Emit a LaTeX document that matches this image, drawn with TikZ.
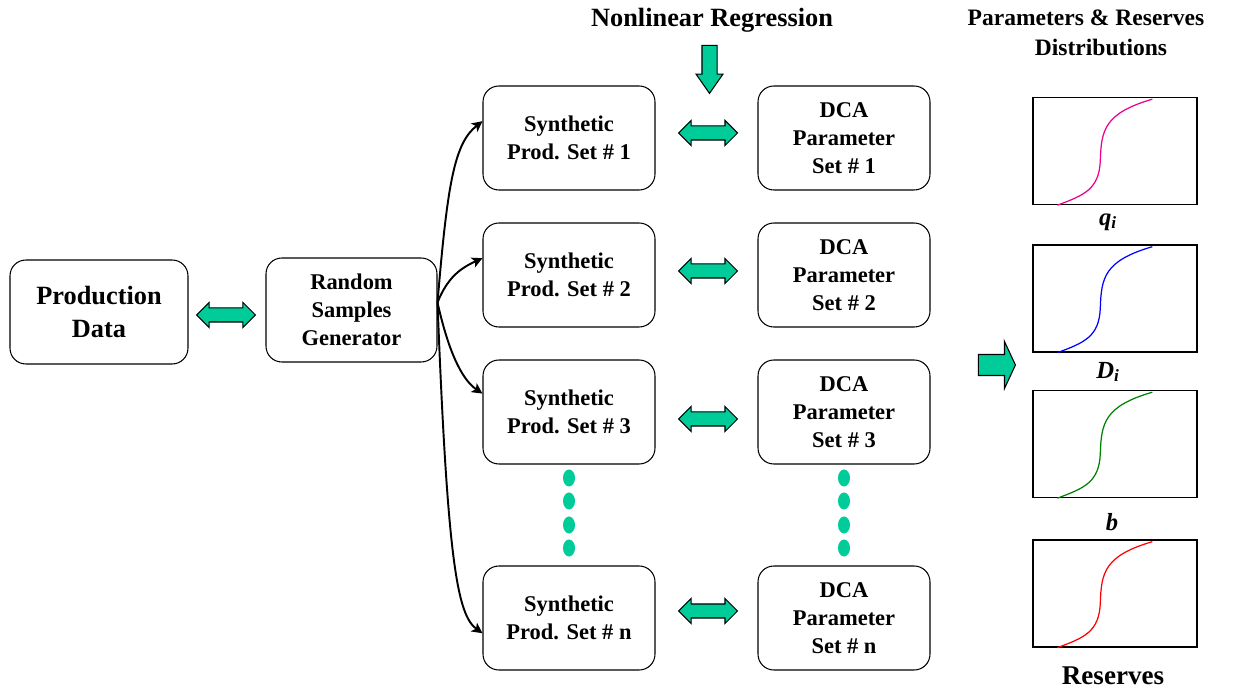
\documentclass[tikz,border=0pt]{standalone}
\usepackage{fontspec}
\setmainfont{Liberation Serif}
\usepackage{tikz}
\usetikzlibrary{arrows.meta, positioning, shapes.arrows}
\definecolor{arrowgreen}{RGB}{0,204,153}
\definecolor{darkgreen}{RGB}{0,128,0}
\tikzset{
  box/.style={
    draw, rounded corners=9pt, line width=0.6pt, minimum width=3.44cm,
    minimum height=2.08cm, inner sep=2pt, align=center,
    font=\fontsize{12.8}{15.8}\selectfont\bfseries
  },
  title/.style={font=\fontsize{13.4}{16}\selectfont\bfseries},
  dblarrow/.style={
    shape=double arrow, draw, fill=arrowgreen, line width=0.6pt, inner sep=0.13cm,
    minimum height=1.18cm, double arrow head extend=0.11cm
  },
  fatarrow/.style={
    shape=single arrow, draw, fill=arrowgreen, line width=0.6pt
  },
  conn/.style={-{Stealth[length=6pt, width=6pt, inset=1.5pt]}, line width=1.1pt},
  plotbox/.style={draw, line width=0.8pt, minimum width=3.28cm, minimum height=2.14cm, inner sep=0pt},
  plotlabel/.style={font=\fontsize{14}{16}\selectfont\bfseries\itshape},
}
\begin{document}
\begin{tikzpicture}[x=0.02cm, y=0.02cm, >=Stealth]
  \useasboundingbox (0,0) rectangle (1248,-692);

  % Titles
  \node[title, font=\fontsize{15}{18}\selectfont\bfseries] (nlr) at (712,-20) {Nonlinear Regression};
  \node[title] (partitle) at (1086,-18) {Parameters \& Reserves};
  \node[title] (disttitle) at (1101,-47) {Distributions};

  % Input boxes
  \node[box, minimum width=3.56cm, font=\fontsize{15}{19}\selectfont\bfseries] (prod) at (99,-312) {Production\\Data};
  \node[box, minimum width=3.42cm] (rsg) at (351.5,-310) {Random\\Samples\\Generator};

  % Synthetic sets and DCA parameter sets
  \foreach \i/\y/\s in {1/138/1, 2/275/2, 3/412/3, 4/618/n} {
    \node[box] (syn\i) at (569,-\y) {Synthetic\\Prod. Set \# \s};
    \node[box] (dca\i) at (844,-\y) {DCA\\Parameter\\Set \# \s};
  }

  % Fat arrows
  \node[dblarrow] (arr0) at (226,-315) {};
  \foreach \i/\y in {1/133, 2/271, 3/419, 4/611} {
    \node[dblarrow] (arr\i) at (708,-\y) {};
  }
  \node[fatarrow, rotate=-90, inner sep=0.14cm, minimum height=0.96cm,
    single arrow head extend=0.12cm, single arrow tip angle=70] (down) at (709.5,-64) {};
  \node[fatarrow, inner sep=0.2cm, minimum height=0.74cm,
    single arrow head extend=0.26cm, single arrow tip angle=130] (right) at (994.5,-365) {};

  % Dots
  \foreach \x in {569, 844} {
    \foreach \y in {478, 501, 525, 548} {
      \fill[arrowgreen] (\x,-\y) ellipse (6 and 8.5);
    }
  }

  % Generator to synthetic sets
  \draw[conn] (rsg.5) .. controls +(10,120) and +(-28,-22) .. (syn1.169);
  \draw[conn] (rsg.5) .. controls +(10,25) and +(-22,-10) .. (syn2.169);
  \draw[conn] (rsg.5) .. controls +(10,-45) and +(-22,15) .. (syn3.168);
  \draw[conn] (rsg.5) .. controls +(10,-260) and +(-25,18) .. (syn4.190);

  % Distributions
  \node[plotbox] (plotq) at (1115,-151) {};
  \node[plotbox] (plotd) at (1115,-298.5) {};
  \node[plotbox] (plotb) at (1115,-444) {};
  \node[plotbox] (plotr) at (1115,-593.5) {};
  \foreach \p/\c in {plotq/magenta, plotd/blue, plotb/darkgreen, plotr/red} {
    \begin{scope}[shift={(\p.south west)}]
      \draw[\c, line width=0.7pt] (25,0) .. controls (52,10) and (67,16) .. (68,45)
        .. controls (69,75) and (72,92) .. (120,106);
    \end{scope}
  }
  \node[plotlabel] (labq) at (1108,-222) {q\textsubscript{i}};
  \node[plotlabel] (labd) at (1108,-372) {D\textsubscript{i}};
  \node[plotlabel] (labb) at (1112,-522) {b};
  \node[font=\fontsize{15.4}{18}\selectfont\bfseries] (labr) at (1113,-676) {Reserves};

\end{tikzpicture}
\end{document}
